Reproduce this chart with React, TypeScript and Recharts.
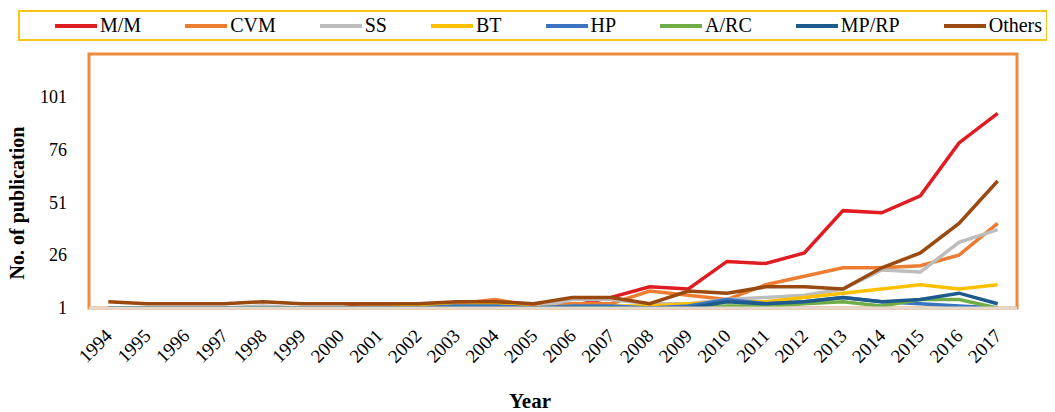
import React from 'react';
import { LineChart, Line, XAxis, YAxis, ReferenceArea } from 'recharts';

const years = ['1994', '1995', '1996', '1997', '1998', '1999', '2000', '2001', '2002', '2003', '2004', '2005', '2006', '2007', '2008', '2009', '2010', '2011', '2012', '2013', '2014', '2015', '2016', '2017'];

const mm = [1, 1, 1, 1, 1, 1, 1, 3, 3, 2, 2, 1, 2, 6, 11, 10, 23, 22, 27, 47, 46, 54, 79, 93];
const cvm = [1, 1, 1, 1, 1, 1, 1, 2, 2, 3, 5, 2, 3, 3, 9, 7, 5, 12, 16, 20, 20, 21, 26, 41];
const ss = [1, 1, 1, 1, 2, 1, 1, 1, 1, 2, 2, 1, 5, 5, 3, 3, 5, 6, 7, 10, 19, 18, 32, 38];
const bt = [1, 1, 1, 1, 1, 1, 1, 1, 2, 2, 3, 1, 2, 2, 2, 3, 4, 4, 6, 8, 10, 12, 10, 12];
const hp = [1, 1, 1, 1, 1, 1, 1, 1, 1, 2, 2, 1, 2, 2, 1, 2, 5, 3, 4, 6, 4, 3, 2, 1];
const arc = [1, 1, 1, 1, 1, 1, 1, 1, 1, 1, 1, 1, 1, 1, 1, 1, 2, 2, 3, 4, 2, 5, 5, 1];
const mprp = [1, 1, 1, 1, 1, 1, 1, 1, 1, 1, 1, 1, 1, 1, 1, 1, 4, 3, 4, 6, 4, 5, 8, 3];
const others = [4, 3, 3, 3, 4, 3, 3, 3, 3, 4, 4, 3, 6, 6, 3, 9, 8, 11, 11, 10, 20, 27, 41, 61];

const seriesNames = ['M/M', 'CVM', 'SS', 'BT', 'HP', 'A/RC', 'MP/RP', 'Others'];
const seriesValues = [mm, cvm, ss, bt, hp, arc, mprp, others];
const seriesColors = ['#E01B22', '#ED7D31', '#BDBDBD', '#FFC000', '#3A73C0', '#70AD47', '#1F5A8C', '#9A4A10'];

const yTicks = [1, 26, 51, 76, 101];
const yDomain = [1, 121];

const yTitle = 'No. of publication';
const xTitle = 'Year';

const data = years.map((year, i) => {
  const row: Record<string, number | string> = { year };
  seriesNames.forEach((name, s) => {
    row[name] = seriesValues[s][i];
  });
  return row;
});

const FONT = '"Liberation Serif", "Times New Roman", serif';

const XTick = (props: any) => {
  const { x, y, payload } = props;
  const ax = x + 5;
  const ay = y + 29;
  return (
    <text
      x={ax}
      y={ay}
      transform={`rotate(-45, ${ax}, ${ay})`}
      textAnchor="end"
      fontFamily={FONT}
      fontSize={19}
      fill="#000"
    >
      {payload.value}
    </text>
  );
};

const LegendBox = () => (
  <div
    style={{
      position: 'absolute',
      top: 2,
      left: 10,
      boxSizing: 'border-box',
      width: 1030,
      height: 31,
      border: '2px solid #F5C518',
      display: 'flex',
      alignItems: 'center',
      paddingLeft: 35,
      fontFamily: FONT,
      fontSize: 20,
      color: '#000',
    }}
  >
    {seriesNames.map((name, i) => (
      <div key={name} style={{ display: 'flex', alignItems: 'center', marginRight: 44 }}>
        <div style={{ width: 42, height: 4, background: seriesColors[i], marginRight: 3 }} />
        <span>{name}</span>
      </div>
    ))}
  </div>
);

export default function App() {
  return (
    <div style={{ width: 1047, height: 404, position: 'relative' }}>
      <LineChart
        width={1047}
        height={404}
        data={data}
        margin={{ top: 46, right: 38, bottom: 44, left: 0 }}
      >
        <ReferenceArea
          x1={years[0]}
          x2={years[years.length - 1]}
          y1={yDomain[0]}
          y2={yDomain[1]}
          fill="none"
          fillOpacity={0}
          stroke="#EE8A3C"
          strokeWidth={3}
          ifOverflow="visible"
        />
        <XAxis
          dataKey="year"
          scale="band"
          interval={0}
          tickLine={false}
          tickSize={0}
          tickMargin={0}
          axisLine={{ stroke: '#E2D8CC', strokeWidth: 3 }}
          tick={<XTick />}
          height={60}
        />
        <YAxis
          domain={yDomain}
          ticks={yTicks}
          type="number"
          width={81}
          tickLine={false}
          axisLine={false}
          tickMargin={16}
          tick={{ fontFamily: FONT, fontSize: 18, fill: '#000' }}
          allowDataOverflow
        />
        {seriesNames.map((name, i) => (
          <Line
            key={name}
            dataKey={name}
            stroke={seriesColors[i]}
            strokeWidth={3.5}
            dot={false}
            activeDot={false}
            isAnimationActive={false}
            type="linear"
          />
        ))}
      </LineChart>
      <LegendBox />
      <div
        style={{
          position: 'absolute',
          left: 9,
          top: 195,
          transform: 'translate(-50%, -50%) rotate(-90deg)',
          fontFamily: FONT,
          fontWeight: 'bold',
          fontSize: 20,
          whiteSpace: 'nowrap',
          color: '#000',
        }}
      >
        {yTitle}
      </div>
      <div
        style={{
          position: 'absolute',
          left: 522,
          top: 393,
          transform: 'translate(-50%, -50%)',
          fontFamily: FONT,
          fontWeight: 'bold',
          fontSize: 21,
          whiteSpace: 'nowrap',
          color: '#000',
        }}
      >
        {xTitle}
      </div>
    </div>
  );
}
